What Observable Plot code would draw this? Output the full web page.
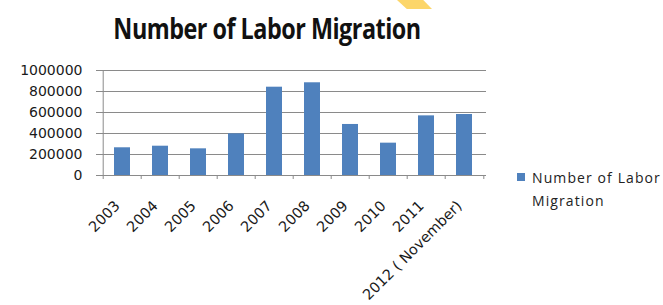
<!DOCTYPE html>
<html>
<head>
<meta charset="utf-8">
<script src="https://cdn.jsdelivr.net/npm/d3@7"></script>
<script src="https://cdn.jsdelivr.net/npm/@observablehq/plot@0.6"></script>
<style>
  html, body { margin: 0; padding: 0; background: #fff; }
  #wrap { position: relative; width: 663px; height: 305px; overflow: hidden; }
  #deco { position: absolute; left: 397px; top: 0; width: 35px; height: 9px; background: #FCD66A;
    clip-path: polygon(0 0, 75% 0, 100% 100%, 28% 100%); }
  #title { position: absolute; left: 0; top: 9px; width: 534px; text-align: center;
    font-family: "Open Sans", sans-serif; font-weight: 700; font-size: 28px; color: #111; letter-spacing: -0.6px; white-space: nowrap;
    transform: scaleX(0.835); transform-origin: 267px 0; }
  #legend { position: absolute; left: 517px; top: 166px; font-family: "Open Sans", sans-serif; font-size: 14px; color: #222; line-height: 23px; letter-spacing: 1.1px; }
  #legend .sw { position: absolute; left: 0; top: 7px; width: 8px; height: 8px; background: #4F81BD; }
  #legend .tx { position: absolute; left: 15px; top: 0; white-space: nowrap; }
  #chart { position: absolute; left: 0; top: 0; }
</style>
</head>
<body>
<div id="wrap">
  <div id="deco"></div>
  <div id="chart"></div>
  <div id="title">Number of Labor Migration</div>
  <div id="legend"><div class="sw"></div><div class="tx">Number of Labor<br>Migration</div></div>
</div>
<script>
const years = ["2003", "2004", "2005", "2006", "2007", "2008", "2009", "2010", "2011", "2012 ( November)"];
const migrants = [264000, 279000, 254000, 397000, 841000, 883000, 486000, 308000, 568000, 581000];
const yTicks = [0, 200000, 400000, 600000, 800000, 1000000];
const seriesName = "Number of Labor Migration";

const data = years.map((y, i) => ({year: y, value: migrants[i]}));

const W = 663, H = 305, ML = 100, MR = 177, MT = 70, MB = 130;
const step = (W - ML - MR) / years.length;
const grid = "#8a8a8a";
const font = "DejaVu Sans, sans-serif";

const plot = Plot.plot({
  width: W, height: H,
  marginLeft: ML, marginRight: MR, marginTop: MT, marginBottom: MB,
  style: {fontFamily: font, fontSize: "14px", color: "#222", background: "transparent", overflow: "visible"},
  x: {domain: years, paddingInner: 0.585, paddingOuter: 0.2925, label: null},
  y: {domain: [0, 1000000], label: null},
  marks: [
    Plot.gridY(yTicks, {stroke: grid, strokeOpacity: 1, strokeWidth: 1}),
    Plot.barY(data, {x: "year", y: "value", fill: "#4F81BD", title: () => seriesName}),
    Plot.ruleX([0], {x: () => years[0], dx: -step / 2, stroke: grid}),
    Plot.ruleY([0], {stroke: grid}),
    Plot.axisY({ticks: yTicks, tickSize: 4, tickPadding: 14, stroke: grid, tickFormat: d3.format("d"), fill: "#1a1a1a", fontSize: 14, letterSpacing: 0.6, label: null}),
    Plot.axisX({ticks: years, tickSize: 4, stroke: grid, tickFormat: () => "", dx: -step / 2, label: null}),
    Plot.axisX({ticks: [years[years.length - 1]], tickSize: 4, stroke: grid, tickFormat: () => "", dx: step / 2, label: null}),
    Plot.axisX({ticks: years, tickSize: 0, tickRotate: -45, tickPadding: 28, dx: -5, fill: "#1a1a1a", fontSize: 14.5, letterSpacing: 0.5, label: null})
  ]
});
document.getElementById("chart").appendChild(plot);
</script>
</body>
</html>
